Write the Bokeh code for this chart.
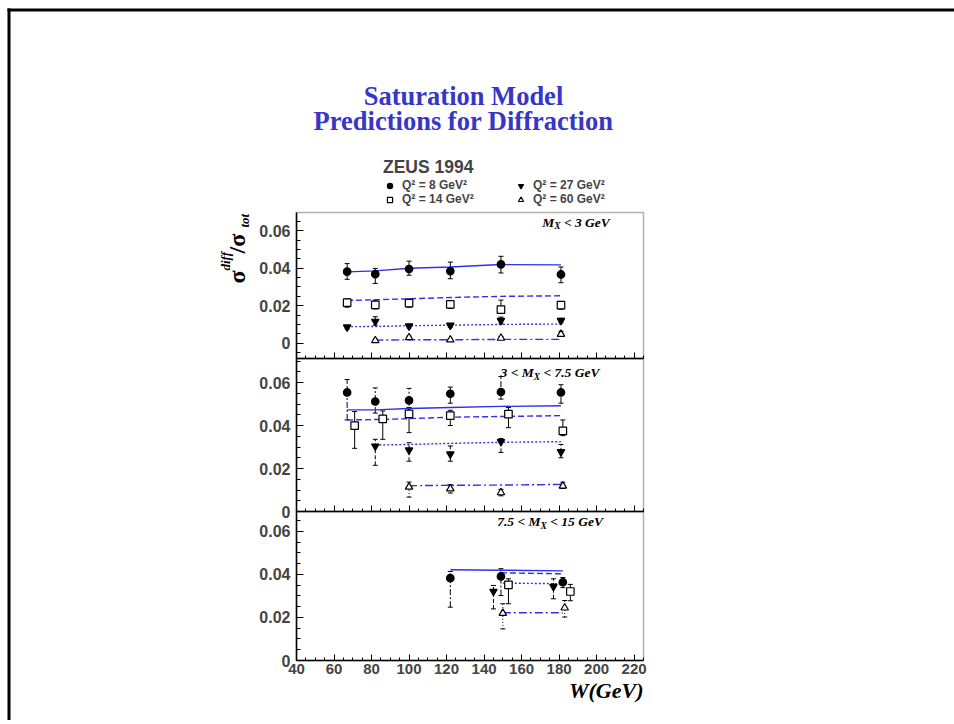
import numpy as np
from bokeh.plotting import figure
from bokeh.models import (Range1d, LinearAxis, FixedTicker, SingleIntervalTicker, Whisker,
                          TeeHead, ColumnDataSource, Label, Legend, LegendItem,
                          CustomJSTickFormatter, BoxAnnotation, GlobalInlineStyleSheet)
from bokeh.embed import file_html
from bokeh.resources import INLINE

# ---------------------------------------------------------------- data
# ZEUS 1994: sigma_diff / sigma_tot versus W, three M_X bins, four Q^2 values.
# Each series: W [GeV], value, upper error, lower error.

# M_X < 3 GeV
mx1_q8_w = [67, 82, 100, 122, 149, 181]
mx1_q8_v = [0.0382, 0.0369, 0.0396, 0.0385, 0.0421, 0.0367]
mx1_q8_up = [0.0043, 0.0030, 0.0042, 0.0048, 0.0043, 0.0040]
mx1_q8_dn = [0.0041, 0.0050, 0.0033, 0.0041, 0.0046, 0.0044]
mx1_q14_w = [67, 82, 100, 122, 149, 181]
mx1_q14_v = [0.0216, 0.0205, 0.0214, 0.0207, 0.0179, 0.0203]
mx1_q14_up = [0.0020, 0.0025, 0.0022, 0.0020, 0.0051, 0.0020]
mx1_q14_dn = [0.0024, 0.0022, 0.0022, 0.0022, 0.0020, 0.0022]
mx1_q27_w = [67, 82, 100, 122, 149, 181]
mx1_q27_v = [0.0086, 0.0116, 0.0091, 0.0095, 0.0121, 0.0121]
mx1_q27_up = [0.0008, 0.0025, 0.0010, 0.0010, 0.0018, 0.0012]
mx1_q27_dn = [0.0010, 0.0020, 0.0010, 0.0010, 0.0018, 0.0012]
mx1_q60_w = [82, 100, 122, 149, 181]
mx1_q60_v = [0.0014, 0.0030, 0.0018, 0.0027, 0.0048]
mx1_q60_up = [0.0008, 0.0008, 0.0006, 0.0008, 0.0015]
mx1_q60_dn = [0.0008, 0.0008, 0.0006, 0.0008, 0.0012]

# 3 < M_X < 7.5 GeV
mx2_q8_w = [67, 82, 100, 122, 149, 181]
mx2_q8_v = [0.0554, 0.0512, 0.0517, 0.0548, 0.0556, 0.0554]
mx2_q8_up = [0.0060, 0.0063, 0.0056, 0.0031, 0.0072, 0.0036]
mx2_q8_dn = [0.0128, 0.0054, 0.0062, 0.0044, 0.0033, 0.0050]
mx2_q14_w = [71, 86, 100, 122, 153, 182]
mx2_q14_v = [0.0400, 0.0431, 0.0454, 0.0446, 0.0453, 0.0375]
mx2_q14_up = [0.0065, 0.0037, 0.0030, 0.0025, 0.0031, 0.0051]
mx2_q14_dn = [0.0106, 0.0095, 0.0087, 0.0046, 0.0063, 0.0022]
mx2_q27_w = [82, 100, 122, 149, 181]
mx2_q27_v = [0.0304, 0.0286, 0.0267, 0.0325, 0.0278]
mx2_q27_up = [0.0032, 0.0034, 0.0038, 0.0015, 0.0034]
mx2_q27_dn = [0.0089, 0.0052, 0.0033, 0.0050, 0.0028]
mx2_q60_w = [100, 122, 149, 182]
mx2_q60_v = [0.0114, 0.0106, 0.0088, 0.0119]
mx2_q60_up = [0.0023, 0.0019, 0.0015, 0.0017]
mx2_q60_dn = [0.0047, 0.0020, 0.0015, 0.0012]

# 7.5 < M_X < 15 GeV
mx3_q8_w = [122, 149, 182]
mx3_q8_v = [0.0383, 0.0391, 0.0364]
mx3_q8_up = [0.0031, 0.0036, 0.0022]
mx3_q8_dn = [0.0135, 0.0089, 0.0025]
mx3_q14_w = [153, 186]
mx3_q14_v = [0.0352, 0.0321]
mx3_q14_up = [0.0028, 0.0033]
mx3_q14_dn = [0.0088, 0.0043]
mx3_q27_w = [145, 177]
mx3_q27_v = [0.0321, 0.0344]
mx3_q27_up = [0.0028, 0.0036]
mx3_q27_dn = [0.0081, 0.0057]
mx3_q60_w = [150, 183]
mx3_q60_v = [0.0220, 0.0245]
mx3_q60_up = [0.0044, 0.0034]
mx3_q60_dn = [0.0073, 0.0043]

# saturation model predictions (W, value)
mx1_c8_w, mx1_c8_v = [67, 82, 100, 122, 149, 181], [0.0381, 0.0386, 0.0400, 0.0407, 0.0420, 0.0418]
mx1_c14_w, mx1_c14_v = [67, 82, 100, 122, 149, 181], [0.0228, 0.0232, 0.0237, 0.0244, 0.0250, 0.0253]
mx1_c27_w, mx1_c27_v = [67, 82, 100, 122, 149, 181], [0.0088, 0.0089, 0.0093, 0.0096, 0.0100, 0.0102]
mx1_c60_w, mx1_c60_v = [82, 100, 122, 149, 181], [0.0016, 0.0018, 0.0018, 0.0020, 0.0020]
mx2_c8_w, mx2_c8_v = [67, 82, 100, 122, 149, 181], [0.0473, 0.0473, 0.0479, 0.0484, 0.0489, 0.0492]
mx2_c14_w, mx2_c14_v = [67, 82, 100, 122, 149, 181], [0.0426, 0.0428, 0.0432, 0.0439, 0.0442, 0.0446]
mx2_c27_w, mx2_c27_v = [82, 100, 122, 149, 181], [0.0309, 0.0312, 0.0317, 0.0322, 0.0325]
mx2_c60_w, mx2_c60_v = [100, 122, 149, 181], [0.0120, 0.0122, 0.0123, 0.0126]
mx3_c8_w, mx3_c8_v = [122, 149, 182], [0.0422, 0.0420, 0.0417]
mx3_c14_w, mx3_c14_v = [149, 182], [0.0408, 0.0403]
mx3_c27_w, mx3_c27_v = [150, 182], [0.0360, 0.0357]
mx3_c60_w, mx3_c60_v = [150, 182], [0.0222, 0.0222]

legend_labels = ["Q\u00b2 = 8 GeV\u00b2", "Q\u00b2 = 14 GeV\u00b2", "Q\u00b2 = 27 GeV\u00b2", "Q\u00b2 = 60 GeV\u00b2"]
y_major = [0, 0.02, 0.04, 0.06]
w_min, w_max = 40, 225

# ---------------------------------------------------------------- layout
# The plotting frame covers the whole canvas; the three panels are laid out
# inside it by giving each its own y range.  Positions below are in page
# pixels measured from the top-left corner.
PAGE_W, PAGE_H = 954, 720
P_LEFT, P_RIGHT = 296, 643

# vertical band of each panel and the value range it shows
bands = {
    "p1": (212, 358, -0.0082, 0.0698),
    "p2": (358, 511, 0.0, 0.0712),
    "p3": (511, 660, 0.0, 0.0693),
}


def y_full_range(top, bot, lo, hi):
    scale = (bot - top) / (hi - lo)
    return Range1d(lo - (PAGE_H - bot) / scale, hi + top / scale)


x_scale = (P_RIGHT - P_LEFT) / (w_max - w_min)
x_range = Range1d(w_min - P_LEFT / x_scale, w_max + (PAGE_W - P_RIGHT) / x_scale)
ranges = {k: y_full_range(*v) for k, v in bands.items()}

page_css = GlobalInlineStyleSheet(css=(
    "html, body { margin: 0; overflow: hidden !important; scrollbar-width: none; }\n"
    "::-webkit-scrollbar { display: none; width: 0; height: 0; }"
))

p = figure(width=PAGE_W, height=PAGE_H, output_backend="svg", toolbar_location=None,
           x_range=x_range, y_range=ranges["p3"], x_axis_type=None, y_axis_type=None,
           min_border=0, stylesheets=[page_css])
p.extra_y_ranges = {"p1": ranges["p1"], "p2": ranges["p2"]}
p.grid.visible = False
p.outline_line_color = None
p.background_fill_color = "white"
p.border_fill_color = "white"

SANS = "Liberation Sans"
SERIF = "Liberation Serif"
BLUE = "#2f2ff0"


def rname(name):
    return "default" if name == "p3" else name


def y_axis(name, minors):
    lo, hi = bands[name][2], bands[name][3]
    ax = LinearAxis(y_range_name=rname(name), fixed_location=w_min, bounds=(lo, hi))
    ax.ticker = FixedTicker(ticks=y_major, minor_ticks=minors)
    ax.major_label_overrides = {0: "0"}
    ax.major_tick_in, ax.major_tick_out = 7, 0
    ax.minor_tick_in, ax.minor_tick_out = 4, 0
    ax.major_label_text_font = SANS
    ax.major_label_text_font_style = "bold"
    ax.major_label_text_font_size = "16px"
    ax.major_label_standoff = 6
    ax.axis_line_width = 1.5
    ax.axis_line_color = "black"
    ax.major_tick_line_color = "black"
    ax.minor_tick_line_color = "black"
    p.add_layout(ax, "left")


def x_axis(name, labels):
    lo = bands[name][2]
    ax = LinearAxis(y_range_name=rname(name), fixed_location=lo, bounds=(w_min, w_max))
    ax.ticker = SingleIntervalTicker(interval=20, num_minor_ticks=4)
    ax.major_tick_in, ax.major_tick_out = 6, 0
    ax.minor_tick_in, ax.minor_tick_out = 3, 0
    ax.axis_line_width = 1.5
    ax.axis_line_color = "black"
    ax.major_tick_line_color = "black"
    ax.minor_tick_line_color = "black"
    if labels:
        ax.major_label_text_font = SANS
        ax.major_label_text_font_style = "bold"
        ax.major_label_text_font_size = "15px"
        ax.major_label_standoff = 3
    else:
        ax.formatter = CustomJSTickFormatter(code="return ''")
        ax.major_label_standoff = 0
    p.add_layout(ax, "below")


minors = {
    "p1": list(np.round(np.arange(-0.005, 0.066, 0.005), 3)),
    "p2": list(np.round(np.arange(0.005, 0.071, 0.005), 3)),
    "p3": list(np.round(np.arange(0.005, 0.066, 0.005), 3)),
}

for name in ("p1", "p2", "p3"):
    lo, hi = bands[name][2], bands[name][3]
    # panel frame
    p.add_layout(BoxAnnotation(left=w_min, right=w_max, bottom=lo, top=hi,
                               y_range_name=rname(name), fill_alpha=0,
                               line_color="black", line_width=1.5))
    y_axis(name, minors[name])
    x_axis(name, labels=(name == "p3"))

# page frame lines (top and left)
p.add_layout(BoxAnnotation(left=7, right=PAGE_W + 5, bottom=PAGE_H - 11, top=PAGE_H - 8,
                           left_units="screen", right_units="screen",
                           bottom_units="screen", top_units="screen",
                           fill_color="black", fill_alpha=1, line_color=None))
p.add_layout(BoxAnnotation(left=7, right=10, bottom=-5, top=PAGE_H - 8,
                           left_units="screen", right_units="screen",
                           bottom_units="screen", top_units="screen",
                           fill_color="black", fill_alpha=1, line_color=None))

# ---------------------------------------------------------------- series
style = {
    "q8": dict(marker="circle", fill="black", curve_dash="solid", err_dash="6 2 2 2"),
    "q14": dict(marker="square", fill="white", curve_dash="6 3", err_dash="solid"),
    "q27": dict(marker="inverted_triangle", fill="black", curve_dash="2 2", err_dash="4 2"),
    "q60": dict(marker="triangle", fill="white", curve_dash="8 3 2 3", err_dash="1 2"),
}

panels = {
    "p1": {
        "points": {"q8": (mx1_q8_w, mx1_q8_v, mx1_q8_up, mx1_q8_dn),
                   "q14": (mx1_q14_w, mx1_q14_v, mx1_q14_up, mx1_q14_dn),
                   "q27": (mx1_q27_w, mx1_q27_v, mx1_q27_up, mx1_q27_dn),
                   "q60": (mx1_q60_w, mx1_q60_v, mx1_q60_up, mx1_q60_dn)},
        "curves": {"q8": (mx1_c8_w, mx1_c8_v), "q14": (mx1_c14_w, mx1_c14_v),
                   "q27": (mx1_c27_w, mx1_c27_v), "q60": (mx1_c60_w, mx1_c60_v)},
    },
    "p2": {
        "points": {"q8": (mx2_q8_w, mx2_q8_v, mx2_q8_up, mx2_q8_dn),
                   "q14": (mx2_q14_w, mx2_q14_v, mx2_q14_up, mx2_q14_dn),
                   "q27": (mx2_q27_w, mx2_q27_v, mx2_q27_up, mx2_q27_dn),
                   "q60": (mx2_q60_w, mx2_q60_v, mx2_q60_up, mx2_q60_dn)},
        "curves": {"q8": (mx2_c8_w, mx2_c8_v), "q14": (mx2_c14_w, mx2_c14_v),
                   "q27": (mx2_c27_w, mx2_c27_v), "q60": (mx2_c60_w, mx2_c60_v)},
    },
    "p3": {
        "points": {"q8": (mx3_q8_w, mx3_q8_v, mx3_q8_up, mx3_q8_dn),
                   "q14": (mx3_q14_w, mx3_q14_v, mx3_q14_up, mx3_q14_dn),
                   "q27": (mx3_q27_w, mx3_q27_v, mx3_q27_up, mx3_q27_dn),
                   "q60": (mx3_q60_w, mx3_q60_v, mx3_q60_up, mx3_q60_dn)},
        "curves": {"q8": (mx3_c8_w, mx3_c8_v), "q14": (mx3_c14_w, mx3_c14_v),
                   "q27": (mx3_c27_w, mx3_c27_v), "q60": (mx3_c60_w, mx3_c60_v)},
    },
}

legend_renderers = {}
for name, panel in panels.items():
    rng = rname(name)
    for key, (cw, cv) in panel["curves"].items():
        p.line(cw, cv, y_range_name=rng, line_color=BLUE, line_width=1.4,
               line_dash=style[key]["curve_dash"])
    for key, (w, v, up, dn) in panel["points"].items():
        st = style[key]
        src = ColumnDataSource(dict(
            w=w, v=v,
            hi=[a + b for a, b in zip(v, up)],
            lo=[a - b for a, b in zip(v, dn)],
        ))
        r = p.scatter("w", "v", source=src, y_range_name=rng, marker=st["marker"], size=7.5,
                      fill_color=st["fill"], line_color="black", line_width=1.2)
        dash = "solid" if name == "p1" else st["err_dash"]
        p.add_layout(Whisker(source=src, base="w", upper="hi", lower="lo", dimension="height",
                             y_range_name=rng, line_color="black", line_width=1, line_dash=dash,
                             upper_head=TeeHead(size=5, line_color="black", line_width=1),
                             lower_head=TeeHead(size=5, line_color="black", line_width=1)))
        if name == "p1":
            legend_renderers[key] = r


# ---------------------------------------------------------------- texts
DROP = 0.28  # baseline offset of the svg text, as a fraction of the font size


def note(x, y, text, size, style="bold", font=SERIF, color="black", align="left", angle=0.0):
    """Place text with its baseline start at page position (x, y)."""
    if angle:
        x -= DROP * size
    else:
        y -= DROP * size
    p.add_layout(Label(x=x, y=PAGE_H - y, x_units="screen", y_units="screen",
                       text=text, text_font=font, text_font_size=f"{size}px",
                       text_font_style=style, text_color=color, text_align=align,
                       text_baseline="alphabetic", angle=angle))


TITLE_BLUE = "#3636c8"
note(463, 103, "Saturation Model", 26.5, color=TITLE_BLUE, align="center")
note(463, 128, "Predictions for Diffraction", 26.5, color=TITLE_BLUE, align="center")

# y-axis title: sigma^diff / sigma_tot (rotated)
note(243, 283, "\u03c3", 24, angle=np.pi / 2)
note(229, 270, "diff", 13, style="bold italic", angle=np.pi / 2)
note(243, 253, "/\u03c3", 24, angle=np.pi / 2)
note(248, 227, "tot", 13, style="bold italic", angle=np.pi / 2)

# x-axis title
note(643, 696, "W(GeV)", 22, style="bold italic", align="right")

# M_X bin labels
BI = "bold italic"
note(541.7, 225.5, "M", 13.5, style=BI)
note(553.7, 228.5, "X", 9.5, style=BI)
note(563.4, 225.5, "< 3 GeV", 13.5, style=BI)

note(500, 376, "3 <", 13.5, style=BI)
note(521.2, 376, "M", 13.5, style=BI)
note(533.2, 379, "X", 9.5, style=BI)
note(542.9, 376, "< 7.5 GeV", 13.5, style=BI)

note(496.7, 525, "7.5 <", 13.5, style=BI)
note(528, 525, "M", 13.5, style=BI)
note(540, 528, "X", 9.5, style=BI)
note(549.7, 525, "< 15 GeV", 13.5, style=BI)

# ---------------------------------------------------------------- legend
keys = ["q8", "q14", "q27", "q60"]
legend = Legend(
    items=[LegendItem(label=lab, renderers=[legend_renderers[k]]) for lab, k in zip(legend_labels, keys)],
    location=(383, PAGE_H - 206), orientation="vertical", ncols=2,
    title="ZEUS 1994", title_text_font=SANS, title_text_font_style="bold",
    title_text_font_size="17.5px", title_standoff=0,
    label_text_font=SANS, label_text_font_style="bold", label_text_font_size="12px",
    glyph_width=13, glyph_height=13, label_height=12, label_width=112, label_standoff=6,
    spacing=0, padding=0, margin=0, border_line_color=None, background_fill_alpha=0,
)
p.add_layout(legend)

open("out.html", "w").write(file_html(p, INLINE))
